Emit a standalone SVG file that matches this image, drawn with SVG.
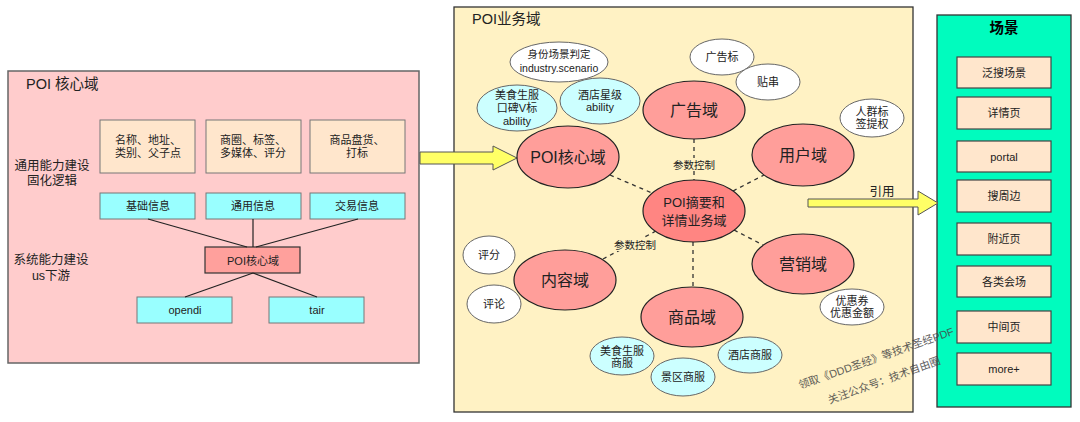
<svg xmlns="http://www.w3.org/2000/svg" width="1080" height="422" viewBox="0 0 1080 422">
<style>
text{font-family:"Liberation Sans","Noto Sans CJK SC",sans-serif;fill:#222;text-anchor:middle;dominant-baseline:central}
.t11{font-size:11px}
.t105{font-size:10.5px}
.t125{font-size:12.5px}
.t13{font-size:13px}
.t16{font-size:16px}
.title{font-size:14.5px;text-anchor:start}
.box1{fill:#FFE6CC;stroke:#777;stroke-width:1}
.box2{fill:#99FFFF;stroke:#777;stroke-width:1}
.dom{fill:#FF9E9A;stroke:#222;stroke-width:1.2}
.wht{fill:#FFFFFF;stroke:#666;stroke-width:1}
.cyn{fill:#CCFFFF;stroke:#666;stroke-width:1}
.ln{stroke:#222;stroke-width:1.2;fill:none}
.dash{stroke:#333;stroke-width:1.3;stroke-dasharray:4 4;fill:none}
.arrow{fill:#FFFF66;stroke:#555;stroke-width:1}
.scn{fill:#FFE6CC;stroke:#444;stroke-width:1.2}
.wm{font-size:10.8px;fill:#444;opacity:0.85}
</style>

<!-- Left panel -->
<g id="poi-core-panel">
<rect x="8" y="71" width="411" height="292" fill="#FFCCCC" stroke="#666" stroke-width="1.5"/>
<text class="title" x="26" y="84">POI 核心域</text>
<text class="t125" x="52" y="166">通用能力建设</text>
<text class="t125" x="52" y="181">固化逻辑</text>
<text class="t125" x="51" y="260">系统能力建设</text>
<text class="t125" x="51" y="276">us下游</text>
</g>
<g id="box-name">
<rect class="box1" x="100" y="120" width="95" height="53"/>
<text class="t11" x="148" y="140">名称、地址、</text>
<text class="t11" x="148" y="153">类别、父子点</text>
</g>
<g id="box-biz">
<rect class="box1" x="206" y="120" width="95" height="53"/>
<text class="t11" x="253" y="140">商圈、标签、</text>
<text class="t11" x="253" y="153">多媒体、评分</text>
</g>
<g id="box-goods">
<rect class="box1" x="310" y="120" width="95" height="53"/>
<text class="t11" x="357" y="140">商品盘货、</text>
<text class="t11" x="357" y="153">打标</text>
</g>
<g id="info-basic">
<rect class="box2" x="100" y="193" width="95" height="26"/>
<text class="t11" x="148" y="206">基础信息</text>
</g>
<g id="info-common">
<rect class="box2" x="206" y="193" width="95" height="26"/>
<text class="t11" x="253" y="206">通用信息</text>
</g>
<g id="info-trade">
<rect class="box2" x="310" y="193" width="95" height="26"/>
<text class="t11" x="357" y="206">交易信息</text>
</g>
<g id="poi-core-box">
<rect x="205" y="247" width="95" height="26" fill="#FFA09C" stroke="#333" stroke-width="1.2"/>
<text class="t11" x="253" y="261">POI核心域</text>
</g>
<g id="opendi">
<rect class="box2" x="137" y="297" width="95" height="26"/>
<text class="t11" x="185" y="310">opendi</text>
</g>
<g id="tair">
<rect class="box2" x="269" y="297" width="95" height="26"/>
<text class="t11" x="317" y="310">tair</text>
</g>

<!-- Middle panel -->
<g id="poi-biz-panel">
<rect x="454" y="7" width="459" height="405" fill="#FFF2C4" stroke="#333" stroke-width="1.3"/>
<text class="title" x="472" y="19">POI业务域</text>
</g>

<!-- Right panel -->
<g id="scene-panel">
<rect x="937" y="15" width="134" height="392" fill="#00FCBE" stroke="#333" stroke-width="1.3"/>
<text x="1004" y="28" style="font-size:14.5px;font-weight:bold;fill:#000">场景</text>
</g>

<!-- Connectors -->
<g id="connectors">
<line class="ln" x1="148" y1="219" x2="247" y2="247"/>
<line class="ln" x1="253" y1="219" x2="253" y2="247"/>
<line class="ln" x1="358" y1="219" x2="256" y2="247"/>
<line class="ln" x1="253" y1="273" x2="185" y2="297"/>
<line class="ln" x1="253" y1="273" x2="317" y2="297"/>
<line class="dash" x1="610" y1="175" x2="652" y2="193"/>
<line class="dash" x1="694" y1="139" x2="694" y2="180"/>
<line class="dash" x1="733" y1="191" x2="764" y2="175"/>
<line class="dash" x1="734" y1="230" x2="763" y2="245"/>
<line class="dash" x1="656" y1="231" x2="603" y2="259"/>
<line class="dash" x1="693" y1="242" x2="693" y2="287"/>
<rect x="671" y="158" width="46" height="13" fill="#FFF2C4"/>
<text class="t105" x="694" y="164.5">参数控制</text>
<rect x="612" y="238" width="46" height="13" fill="#FFF2C4"/>
<text class="t105" x="635" y="244.5">参数控制</text>
<path class="arrow" d="M420,152 L493,152 L493,146 L517,158 L493,170 L493,164 L420,164 Z"/>
<path class="arrow" d="M808,199 L918,199 L918,191 L938,203 L918,215 L918,207 L808,207 Z"/>
<text class="t125" x="882" y="192">引用</text>
</g>

<!-- Domain ellipses -->
<g id="d-core">
<ellipse class="dom" cx="568" cy="157" rx="51" ry="31"/>
<text class="t16" x="568" y="157">POI核心域</text>
</g>
<g id="d-ad">
<ellipse class="dom" cx="694" cy="110" rx="51" ry="29"/>
<text class="t16" x="694" y="110">广告域</text>
</g>
<g id="d-user">
<ellipse class="dom" cx="803" cy="155" rx="51" ry="31"/>
<text class="t16" x="803" y="155">用户域</text>
</g>
<g id="d-summary">
<ellipse cx="694" cy="211" rx="51" ry="31" fill="#FF8582" stroke="#222" stroke-width="1.2"/>
<text class="t13" x="694" y="202">POI摘要和</text>
<text class="t13" x="694" y="220">详情业务域</text>
</g>
<g id="d-content">
<ellipse class="dom" cx="565" cy="280" rx="51" ry="30"/>
<text class="t16" x="565" y="280">内容域</text>
</g>
<g id="d-marketing">
<ellipse class="dom" cx="803" cy="264" rx="51" ry="30"/>
<text class="t16" x="803" y="264">营销域</text>
</g>
<g id="d-goods">
<ellipse class="dom" cx="692" cy="317" rx="51" ry="30"/>
<text class="t16" x="692" y="317">商品域</text>
</g>

<!-- Small ellipses -->
<g id="s-identity">
<ellipse class="wht" cx="559" cy="62" rx="49" ry="20"/>
<text class="t105" x="559" y="54">身份场景判定</text>
<text class="t105" x="559" y="68">industry.scenario</text>
</g>
<g id="s-food">
<ellipse class="cyn" cx="517" cy="108" rx="40" ry="23"/>
<text class="t11" x="517" y="95">美食生服</text>
<text class="t11" x="517" y="108">口碑V标</text>
<text class="t11" x="517" y="121">ability</text>
</g>
<g id="s-hotel">
<ellipse class="cyn" cx="600" cy="101" rx="40" ry="23"/>
<text class="t11" x="600" y="95">酒店星级</text>
<text class="t11" x="600" y="107">ability</text>
</g>
<g id="s-adtag">
<ellipse class="wht" cx="722" cy="57" rx="32" ry="18"/>
<text class="t11" x="722" y="57">广告标</text>
</g>
<g id="s-tiechuan">
<ellipse class="wht" cx="768" cy="82" rx="32" ry="18"/>
<text class="t11" x="768" y="82">贴串</text>
</g>
<g id="s-crowd">
<ellipse class="wht" cx="872" cy="118" rx="32" ry="19"/>
<text class="t11" x="872" y="112">人群标</text>
<text class="t11" x="872" y="124">签提权</text>
</g>
<g id="s-coupon">
<ellipse class="wht" cx="852" cy="307" rx="32" ry="18"/>
<text class="t11" x="852" y="301">优惠券</text>
<text class="t11" x="852" y="313">优惠金额</text>
</g>
<g id="s-score">
<ellipse class="wht" cx="489" cy="255" rx="26" ry="19"/>
<text class="t11" x="489" y="255">评分</text>
</g>
<g id="s-comment">
<ellipse class="wht" cx="494" cy="304" rx="27" ry="19"/>
<text class="t11" x="494" y="304">评论</text>
</g>
<g id="s-foodgoods">
<ellipse class="cyn" cx="622" cy="356" rx="32" ry="19"/>
<text class="t11" x="622" y="351">美食生服</text>
<text class="t11" x="622" y="363">商服</text>
</g>
<g id="s-scenic">
<ellipse class="cyn" cx="683" cy="377" rx="32" ry="19"/>
<text class="t11" x="683" y="377">景区商服</text>
</g>
<g id="s-hotelgoods">
<ellipse class="cyn" cx="750" cy="355" rx="32" ry="18"/>
<text class="t11" x="750" y="355">酒店商服</text>
</g>

<!-- Scene boxes -->
<g id="sc-1"><rect class="scn" x="957" y="57" width="94" height="31"/><text class="t11" x="1004" y="72.5">泛搜场景</text></g>
<g id="sc-2"><rect class="scn" x="957" y="97" width="94" height="32"/><text class="t11" x="1004" y="113">详情页</text></g>
<g id="sc-3"><rect class="scn" x="957" y="141" width="94" height="31"/><text class="t11" x="1004" y="156.5">portal</text></g>
<g id="sc-4"><rect class="scn" x="957" y="180" width="94" height="32"/><text class="t11" x="1004" y="196">搜周边</text></g>
<g id="sc-5"><rect class="scn" x="957" y="223" width="94" height="32"/><text class="t11" x="1004" y="239">附近页</text></g>
<g id="sc-6"><rect class="scn" x="957" y="266" width="94" height="31"/><text class="t11" x="1004" y="281.5">各类会场</text></g>
<g id="sc-7"><rect class="scn" x="957" y="311" width="94" height="32"/><text class="t11" x="1004" y="327">中间页</text></g>
<g id="sc-8"><rect class="scn" x="957" y="353" width="94" height="32"/><text class="t11" x="1004" y="369">more+</text></g>

<!-- Watermark -->
<g id="watermark">
<text class="wm" transform="translate(876,358) rotate(-19.5)">领取《DDD圣经》等技术圣经PDF</text>
<text class="wm" transform="translate(884,380) rotate(-20)">关注公众号：技术自由圈</text>
</g>
</svg>
